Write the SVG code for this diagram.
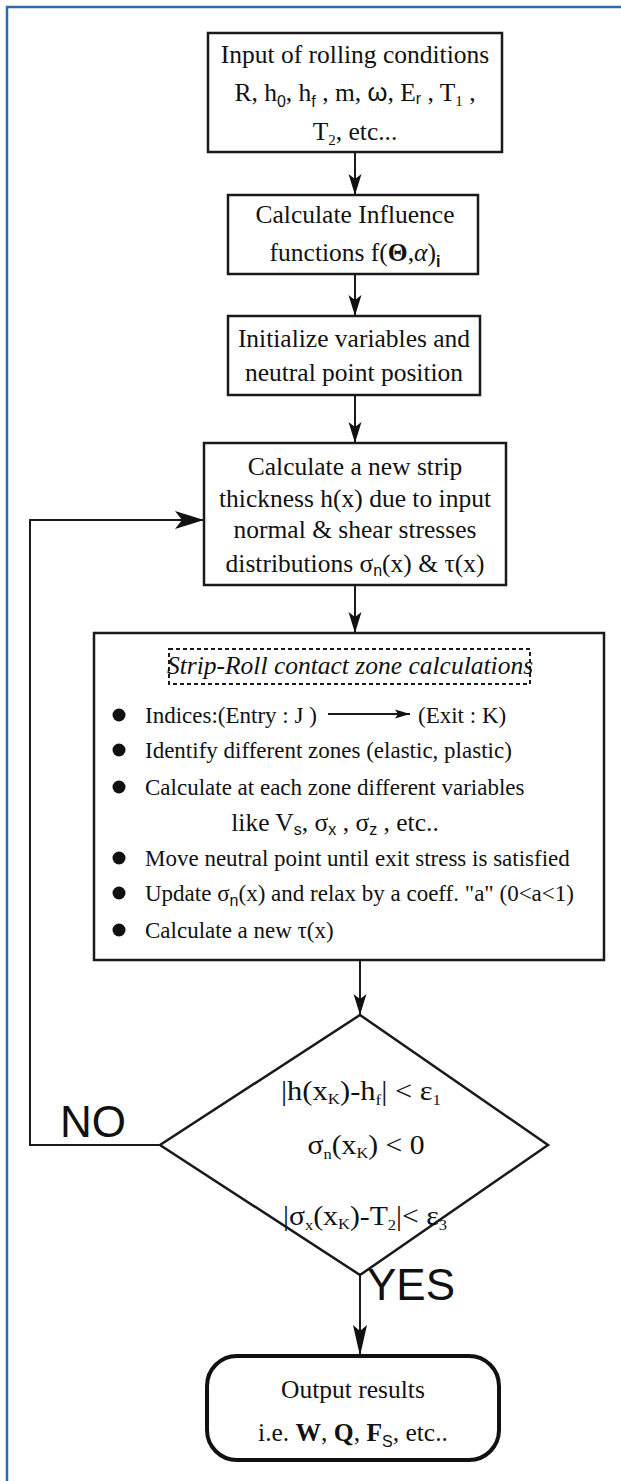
<svg xmlns="http://www.w3.org/2000/svg" width="621" height="1481" viewBox="0 0 621 1481">
<style>
.t{font-family:"Liberation Serif","Times New Roman",serif;font-size:25.5px;fill:#111;text-anchor:middle}
.b{font-size:23px;text-anchor:start}
.ss{font-family:"Liberation Sans",Arial,sans-serif;font-size:16px}
.sr{font-size:15px}
.box{fill:#fff;stroke:#1a1a1a;stroke-width:2.5}
.con{fill:none;stroke:#1a1a1a;stroke-width:2}
.lbl{font-family:"Liberation Sans",Arial,sans-serif;font-size:44px;fill:#111}
.dt{font-size:27px}
</style>
<defs>
<marker id="ah" markerUnits="userSpaceOnUse" markerWidth="22" markerHeight="14" viewBox="0 -7 22 14" refX="21" refY="0" orient="auto"><path d="M0,-6.5 L21,0 L0,6.5 L5,0 Z" fill="#111"/></marker>
<marker id="ahL" markerUnits="userSpaceOnUse" markerWidth="30" markerHeight="20" viewBox="0 -10 30 20" refX="29" refY="0" orient="auto"><path d="M0,-9 L29,0 L0,9 L7,0 Z" fill="#111"/></marker>
<marker id="ahN" markerUnits="userSpaceOnUse" markerWidth="32" markerHeight="16" viewBox="0 -8 32 16" refX="31" refY="0" orient="auto"><path d="M0,-7 L31,0 L0,7 L6,0 Z" fill="#111"/></marker>
<marker id="ahS" markerUnits="userSpaceOnUse" markerWidth="16" markerHeight="10" viewBox="0 -5 16 10" refX="15" refY="0" orient="auto"><path d="M0,-4.5 L15,0 L0,4.5 L3,0 Z" fill="#111"/></marker>
</defs>
<rect width="621" height="1481" fill="#fff"/>
<g id="frame" fill="none" stroke="#2b6ca6" stroke-width="2.5">
<path d="M7,1481 V7 H621"/>
</g>
<g id="connectors" class="con">
<path d="M355,152 V195" marker-end="url(#ah)"/>
<path d="M355,274 V316" marker-end="url(#ah)"/>
<path d="M355,395 V443" marker-end="url(#ah)"/>
<path d="M355,585 V633" marker-end="url(#ah)"/>
<path d="M360,960 V1015" marker-end="url(#ah)"/>
<path d="M360,1275 V1356" marker-end="url(#ahN)"/>
<path d="M160,1145 H30 V520 H204" marker-end="url(#ahL)"/>
</g>
<g id="n1">
<rect class="box" x="208" y="33" width="294" height="119"/>
<text class="t" x="355" y="63">Input of rolling conditions</text>
<text class="t" x="355" y="101">R, h<tspan class="ss" dy="6">0</tspan><tspan dy="-6">, h</tspan><tspan class="ss" dy="6">f</tspan><tspan dy="-6"> , m, </tspan><tspan font-family="Liberation Sans">ω</tspan>, E<tspan class="ss" dy="3">r</tspan><tspan dy="-3"> , T</tspan><tspan class="sr" dy="5">1</tspan><tspan dy="-5"> ,</tspan></text>
<text class="t" x="355" y="140">T<tspan class="sr" dy="5">2</tspan><tspan dy="-5">, etc...</tspan></text>
</g>
<g id="n2">
<rect class="box" x="228" y="195" width="250" height="79"/>
<text class="t" x="355" y="223">Calculate Influence</text>
<text class="t" x="355" y="261">functions f(<tspan font-weight="bold">Θ</tspan>,<tspan font-style="italic">α</tspan>)<tspan class="ss" font-weight="bold" dy="6">i</tspan></text>
</g>
<g id="n3">
<rect class="box" x="228" y="316" width="252" height="79"/>
<text class="t" x="354" y="347">Initialize variables and</text>
<text class="t" x="354" y="381">neutral point position</text>
</g>
<g id="n4">
<rect class="box" x="204" y="443" width="302" height="142"/>
<text class="t" x="355" y="475">Calculate a new strip</text>
<text class="t" x="355" y="507">thickness h(x) due to input</text>
<text class="t" x="355" y="538">normal &amp; shear stresses</text>
<text class="t" x="355" y="572">distributions σ<tspan class="ss" font-size="14" dy="4">n</tspan><tspan dy="-4">(x) &amp; τ(x)</tspan></text>
</g>
<g id="n5">
<rect class="box" x="94" y="633" width="510" height="327"/>
<rect x="169" y="649" width="361" height="35" fill="none" stroke="#1a1a1a" stroke-width="2" stroke-dasharray="4 3"/>
<text class="t" x="350" y="674" font-size="23" font-style="italic">Strip-Roll contact zone calculations</text>
<g fill="#111">
<circle cx="119" cy="715" r="6.5"/>
<circle cx="119" cy="750" r="6.5"/>
<circle cx="119" cy="787" r="6.5"/>
<circle cx="119" cy="858" r="6.5"/>
<circle cx="119" cy="893" r="6.5"/>
<circle cx="119" cy="930" r="6.5"/>
</g>
<text class="t b" x="145" y="723">Indices:(Entry : J )</text>
<path d="M328,714 H410" class="con" stroke-width="1.8" marker-end="url(#ahS)"/>
<text class="t b" x="418" y="723">(Exit : K)</text>
<text class="t b" x="145" y="758">Identify different zones (elastic, plastic)</text>
<text class="t b" x="145" y="795">Calculate at each zone different variables</text>
<text class="t" font-size="23" x="335" y="831">like V<tspan class="ss" font-size="15" dy="4">s</tspan><tspan dy="-4">, σ</tspan><tspan class="ss" font-size="15" dy="4">x</tspan><tspan dy="-4"> , σ</tspan><tspan class="ss" font-size="15" dy="4">z</tspan><tspan dy="-4"> , etc..</tspan></text>
<text class="t b" x="145" y="866">Move neutral point until exit stress is satisfied</text>
<text class="t b" x="145" y="901">Update σ<tspan class="ss" font-size="13" dy="5">n</tspan><tspan dy="-5">(x) and relax by a coeff. "a" (0&lt;a&lt;1)</tspan></text>
<text class="t b" x="145" y="938">Calculate a new τ(x)</text>
</g>
<g id="n6">
<path d="M360,1015 L548,1145 L360,1275 L160,1145 Z" fill="#fff" stroke="#1a1a1a" stroke-width="2.5"/>
<text class="t dt" x="361" y="1100" textLength="160" lengthAdjust="spacingAndGlyphs">|h(x<tspan class="sr" font-size="13" dy="4">K</tspan><tspan dy="-4">)-h</tspan><tspan class="sr" font-size="15" dy="5">f</tspan><tspan dy="-5">| &lt; ε</tspan><tspan class="sr" font-size="17" dy="5">1</tspan></text>
<text class="t dt" x="366" y="1154" textLength="117" lengthAdjust="spacingAndGlyphs">σ<tspan class="sr" font-size="17" dy="5">n</tspan><tspan dy="-5">(x</tspan><tspan class="sr" font-size="13" dy="4">K</tspan><tspan dy="-4">) &lt; 0</tspan></text>
<text class="t dt" x="365" y="1225" textLength="164" lengthAdjust="spacingAndGlyphs">|σ<tspan class="sr" font-size="15" dy="5">x</tspan><tspan dy="-5">(x</tspan><tspan class="sr" font-size="13" dy="4">K</tspan><tspan dy="-4">)-T</tspan><tspan class="sr" font-size="17" dy="5">2</tspan><tspan dy="-5">|&lt; ε</tspan><tspan class="sr" font-size="17" dy="5">3</tspan></text>
</g>
<g id="n7">
<rect x="207" y="1356" width="292" height="104" rx="30" fill="#fff" stroke="#111" stroke-width="4"/>
<text class="t" x="353" y="1398">Output results</text>
<text class="t" x="353" y="1441">i.e. <tspan font-weight="bold">W</tspan>, <tspan font-weight="bold">Q</tspan>, <tspan font-weight="bold">F</tspan><tspan class="ss" dy="6">S</tspan><tspan dy="-6">, etc..</tspan></text>
</g>
<g id="labels">
<text class="lbl" x="60" y="1137">NO</text>
<text class="lbl" x="367" y="1300">YES</text>
</g>
</svg>
